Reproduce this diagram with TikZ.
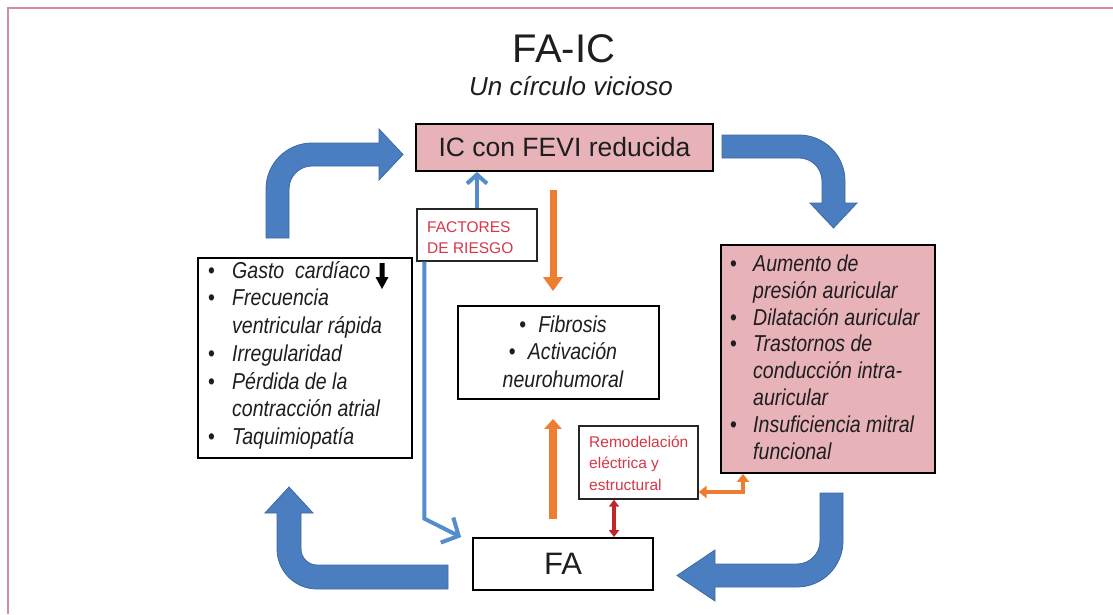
\documentclass[tikz,border=0pt]{standalone}
\usepackage{fontspec}
\setmainfont{Liberation Sans}
\newfontfamily\narrowfont[FakeStretch=0.85]{Liberation Sans}
\usetikzlibrary{arrows.meta,calc}
\definecolor{pinkfill}{RGB}{231,178,184}
\definecolor{framec}{RGB}{214,140,160}
\definecolor{bblue}{RGB}{75,126,192}
\definecolor{bedge}{RGB}{60,105,165}
\definecolor{tblue}{RGB}{85,140,205}
\definecolor{orng}{RGB}{238,125,50}
\definecolor{dred}{RGB}{190,40,40}
\definecolor{tred}{RGB}{215,55,70}
\definecolor{txt}{RGB}{30,30,30}
\newcommand{\bu}[1]{\makebox[#1][l]{\upshape\textbullet}}
\begin{document}
\begin{tikzpicture}[x=1pt,y=-1pt,
  box/.style={draw=black, line width=1.8pt, inner sep=0pt, text=txt},
  smallbox/.style={draw=black!85, line width=1.3pt, inner sep=0pt},
  bigarrow/.style={fill=bblue, draw=bedge, line width=0.8pt},
  thinblue/.style={draw=tblue, line width=4pt},
  btxt/.style={inner sep=0pt, anchor=north west, align=left, text=txt, font=\narrowfont\itshape\fontsize{23}{27.7}\selectfont},
  rtxt/.style={inner sep=0pt, anchor=north west, align=left, text=tred, font=\fontsize{15.5}{21.5}\selectfont}]
\useasboundingbox (0,0) rectangle (1113,614);
\fill[white] (0,0) rectangle (1113,614);
\draw[framec, line width=2.5pt] (8,614) -- (8,8) -- (1113,8);

% titles
\node[font=\fontsize{40}{42}\selectfont, anchor=base, text=txt, inner sep=0pt] (title) at (564,62) {FA-IC};
\node[font=\itshape\fontsize{26}{28}\selectfont, anchor=base, text=txt, inner sep=0pt] (sub) at (571,95) {Un círculo vicioso};

% boxes
\node[box, fill=pinkfill, minimum width=297pt, minimum height=47pt, font=\fontsize{26.5}{28}\selectfont] (ic) at (564.5,147.5) {IC con FEVI reducida};
\node[box, minimum width=214pt, minimum height=200pt] (lbox) at (305,358) {};
\node[box, fill=pinkfill, minimum width=214pt, minimum height=228pt] (rbox) at (828,359) {};
\node[box, minimum width=201pt, minimum height=93pt] (mid) at (558.5,352.5) {};
\node[box, minimum width=180pt, minimum height=52pt, font=\fontsize{31}{33}\selectfont] (fa) at (563,564) {FA};
\node[smallbox, minimum width=119pt, minimum height=73pt] (remod) at (638.5,462.5) {};
\node[smallbox, minimum width=120pt, minimum height=52pt] (fact) at (477,235) {};

% texts
\node[btxt] (ltext) at (208,258.61) {\strut\bu{24pt}Gasto\ \ cardíaco\\
\bu{24pt}Frecuencia\\
\hspace*{24pt}ventricular rápida\\
\bu{24pt}Irregularidad\\
\bu{24pt}Pérdida de la\\
\hspace*{24pt}contracción atrial\\
\bu{24pt}Taquimiopatía};
\node[btxt, font=\narrowfont\itshape\fontsize{23}{26.9}\selectfont] (rtext) at (730,252.2) {\strut\bu{23pt}Aumento de\\
\hspace*{23pt}presión auricular\\
\bu{23pt}Dilatación auricular\\
\bu{23pt}Trastornos de\\
\hspace*{23pt}conducción intra-\\
\hspace*{23pt}auricular\\
\bu{23pt}Insuficiencia mitral\\
\hspace*{23pt}funcional};
\node[btxt, anchor=north, align=center, font=\narrowfont\itshape\fontsize{23}{27.5}\selectfont] (mtext) at (563,312.75) {\strut\bu{19pt}Fibrosis\\
\bu{19pt}Activación\\
neurohumoral};
\node[rtxt] (rmtext) at (589,431.95) {\strut Remodelación\\eléctrica y\\estructural};
\node[rtxt, font=\fontsize{15.5}{21}\selectfont] (fctext) at (427,217.3) {\strut FACTORES\\DE RIESGO};

% down arrow after "cardiaco"
\fill[black] (379.5,263) -- (384.5,263) -- (384.5,277) -- (388.5,277) -- (382,289) -- (375.5,277) -- (379.5,277) -- cycle;

% big block arrows
\path[bigarrow] (266,238) -- (266,189) .. controls (266,163.6) and (286.6,143) .. (312,143) -- (379,143) -- (379,129) -- (403,154.5) -- (379,180) -- (379,166) -- (312,166) .. controls (299.3,166) and (289,176.3) .. (289,189) -- (289,238) -- cycle;
\path[bigarrow] (722,135) -- (799,135) .. controls (824.4,135) and (845,155.6) .. (845,181) -- (845,203) -- (857,203) -- (833.5,228) -- (810,203) -- (822,203) -- (822,181) .. controls (822,168.3) and (811.7,158) .. (799,158) -- (722,158) -- cycle;
\path[bigarrow] (820,493) -- (843,493) -- (843,541) .. controls (843,566.4) and (822.4,587) .. (797,587) -- (715,587) -- (715,601) -- (677,575.5) -- (715,550) -- (715,564) -- (797,564) .. controls (809.7,564) and (820,553.7) .. (820,541) -- cycle;
\path[bigarrow] (448,565) -- (448,589) -- (317,589) .. controls (294.9,589) and (277,571.1) .. (277,549) -- (277,513) -- (265,513) -- (289,487) -- (313,513) -- (301,513) -- (301,549) .. controls (301,557.8) and (308.2,565) .. (317,565) -- cycle;

% thin blue connectors
\draw[thinblue, -{Straight Barb[length=9pt,width=20pt]}] (fact.north) -- (fact.north |- ic.south);
\draw[thinblue, -{Straight Barb[length=13pt,width=28pt]}] ([xshift=8pt]fact.south west) -- ++(0,257) -- ([xshift=-11pt]fa.north west);

% orange connectors
\draw[orng, line width=7pt, -{Triangle[length=14pt,width=19pt]}] ([xshift=-11.5pt,yshift=-18pt]ic.south) -- ([xshift=-5.5pt,yshift=14pt]mid.north);
\draw[orng, line width=8pt, -{Triangle[length=10pt,width=17pt]}] ([xshift=-10pt,yshift=18pt]fa.north) -- ([xshift=-5.5pt,yshift=-19pt]mid.south);
\draw[orng, line width=4.5pt, {Triangle[length=8pt,width=12pt]}-{Triangle[length=8pt,width=12pt]}] ([yshift=-29.5pt]remod.east) -| ([xshift=-85pt]rbox.south);

% red connector
\draw[dred, line width=4.5pt, {Triangle[length=7pt,width=10pt]}-{Triangle[length=7pt,width=10pt]}] ([xshift=-24.5pt]remod.south) -- ([xshift=-24.5pt]remod.south |- fa.north);
\end{tikzpicture}
\end{document}
